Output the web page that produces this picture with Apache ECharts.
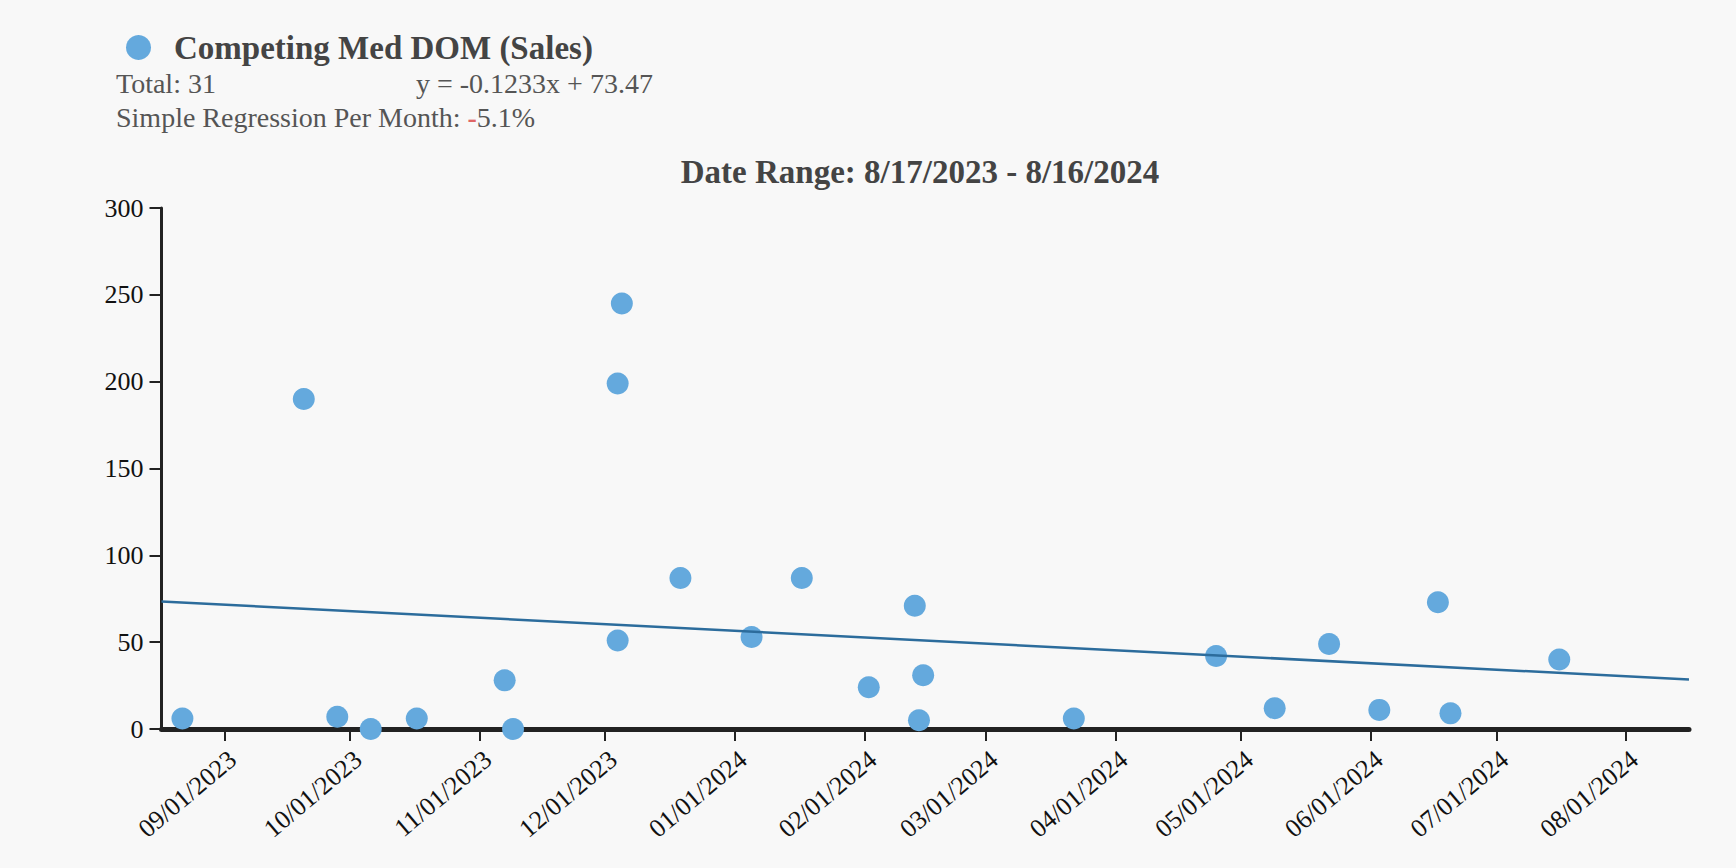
<!DOCTYPE html>
<html>
<head>
<meta charset="utf-8">
<script src="https://cdn.jsdelivr.net/npm/echarts@6/dist/echarts.min.js"></script>
<style>
html,body{margin:0;padding:0;background:#f8f8f8;}
#chart{width:1736px;height:868px;}
</style>
</head>
<body>
<div id="chart"></div>
<script>
// ---- data ----
const seriesName = 'Competing Med DOM (Sales)';
const saleDates = ['2023-08-22','2023-09-20','2023-09-28','2023-10-06','2023-10-17','2023-11-07','2023-11-09',
  '2023-12-04','2023-12-05','2023-12-04','2023-12-19','2024-01-05','2024-01-17','2024-02-02','2024-02-13',
  '2024-02-14','2024-02-15','2024-03-22','2024-04-25','2024-05-09','2024-05-22','2024-06-03','2024-06-17',
  '2024-06-20','2024-07-16'];
const domValues = [6,190,7,0,6,28,0,199,245,51,87,53,87,24,71,5,31,6,42,12,49,11,73,9,40];
const tickMonths = ['2023-09-01','2023-10-01','2023-11-01','2023-12-01','2024-01-01','2024-02-01',
  '2024-03-01','2024-04-01','2024-05-01','2024-06-01','2024-07-01','2024-08-01'];
const yTicks = [0,50,100,150,200,250,300];
const rangeStart = '2023-08-17';
const rangeEnd = '2024-08-16';
const rangeLabel = 'Date Range: 8/17/2023 - 8/16/2024';
const trendSlope = -0.1233;
const trendIntercept = 73.47;
const totalLabel = 'Total: 31';
const equationLabel = 'y = -0.1233x + 73.47';
const perMonthLabel = '5.1%';

// ---- helpers ----
function toTs(s){const p=s.split('-').map(Number);return new Date(p[0],p[1]-1,p[2]).getTime();}
function pad(n){return (n<10?'0':'')+n;}
const startTs = toTs(rangeStart), endTs = toTs(rangeEnd);
const spanDays = Math.round((endTs-startTs)/86400000);
const scatterData = saleDates.map((d,i)=>[toTs(d), domValues[i]]);
const trendData = [[startTs, trendIntercept],[endTs, trendIntercept + trendSlope*spanDays]];
const tickTs = tickMonths.map(toTs);

const FONT = '"Liberation Serif","Times New Roman",serif';
const chart = echarts.init(document.getElementById('chart'), null, {renderer:'svg'});
chart.setOption({
  backgroundColor:'#f8f8f8',
  animation:false,
  legend:{
    data:[seriesName], left:121, top:26, itemWidth:25, itemHeight:25, icon:'circle',
    textStyle:{fontFamily:FONT, fontSize:33, fontWeight:'bold', color:'#444', padding:[0,0,0,18]}
  },
  graphic:[
    {type:'text', left:116, top:69, style:{text:totalLabel, font:'28px '+FONT, fill:'#555'}},
    {type:'text', left:416, top:69, style:{text:equationLabel, font:'28px '+FONT, fill:'#555'}},
    {type:'text', left:116, top:103, style:{
      text:'Simple Regression Per Month: {neg|-}'+perMonthLabel,
      font:'28px '+FONT, fill:'#555',
      rich:{neg:{fill:'#e06666', font:'bold 28px '+FONT, fontFamily:FONT, fontSize:28, fontWeight:'bold', color:'#e06666'}}
    }},
    {type:'text', x:920, y:172, style:{text:rangeLabel, font:'bold 33px '+FONT, fill:'#444', textAlign:'center', textVerticalAlign:'middle'}}
  ],
  grid:{left:161.5, right:47, top:208, bottom:139, containLabel:false},
  xAxis:{
    type:'value', min:startTs, max:endTs,
    axisLine:{show:true, lineStyle:{color:'#222', width:5}},
    axisTick:{show:true, customValues:tickTs, length:12, lineStyle:{color:'#222', width:2}},
    axisLabel:{customValues:tickTs, rotate:40, margin:17, verticalAlign:'top', fontFamily:FONT, fontSize:26, color:'#111',
      formatter:function(v){const d=new Date(v);return pad(d.getMonth()+1)+'/'+pad(d.getDate())+'/'+d.getFullYear();}},
    splitLine:{show:false}
  },
  yAxis:{
    type:'value', min:yTicks[0], max:yTicks[yTicks.length-1], interval:50,
    axisLine:{show:true, lineStyle:{color:'#222', width:3}},
    axisTick:{show:true, length:12, lineStyle:{color:'#222', width:2}},
    axisLabel:{fontFamily:FONT, fontSize:26, color:'#111', margin:18},
    splitLine:{show:false}
  },
  series:[
    {name:seriesName, type:'scatter', data:scatterData, symbolSize:22,
      itemStyle:{color:'#64a9dd', opacity:1}},
    {name:'trend', type:'line', data:trendData, showSymbol:false, symbol:'none',
      lineStyle:{color:'#2c6c9c', width:2.5}, silent:true}
  ]
});
</script>
</body>
</html>
